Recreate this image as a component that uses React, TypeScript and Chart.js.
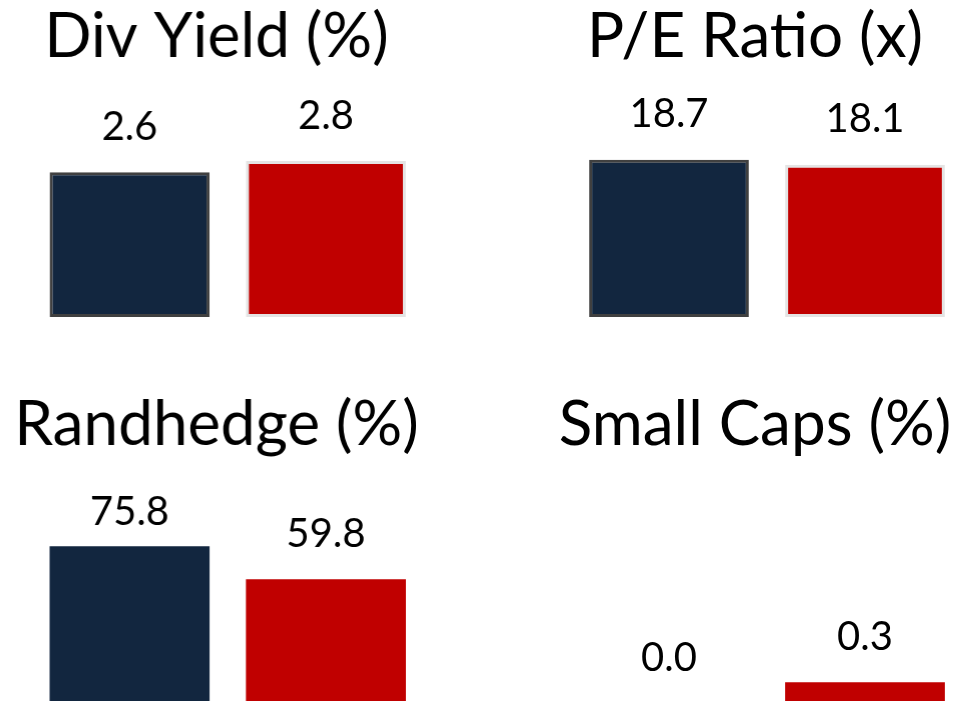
import React, { useEffect, useRef } from "react";
import { Chart, registerables } from "chart.js";

Chart.register(...registerables);

// ---- data ----
const seriesNames = ["Fund", "Benchmark"];
const panelTitles = ["Div Yield (%)", "P/E Ratio (x)", "Randhedge (%)", "Small Caps (%)"];
const divYield = [2.6, 2.8];
const peRatio = [18.7, 18.1];
const randhedge = [75.8, 59.8];
const smallCaps = [0.0, 0.3];
const axisMax = [4, 26.5, 100, 3];

const NAVY = "#12263F";
const RED = "#C00000";
const FONT = "Lato, 'Open Sans', sans-serif";

type Panel = {
  title: string;
  values: number[];
  max: number;
  left: number;
  top: number;
  width: number;
  height: number;
  axisWidth: number;
  padBottom: number;
  titlePadBottom: number;
  bordered: boolean;
};

const panels: Panel[] = [
  {
    title: panelTitles[0], values: divYield, max: axisMax[0],
    left: 9.2, top: 0, width: 414.6, height: 320, axisWidth: 22.4,
    padBottom: 3, titlePadBottom: 19.8, bordered: true,
  },
  {
    title: panelTitles[1], values: peRatio, max: axisMax[1],
    left: 547, top: 0, width: 416, height: 320, axisWidth: 24,
    padBottom: 3, titlePadBottom: 19.8, bordered: true,
  },
  {
    title: panelTitles[2], values: randhedge, max: axisMax[2],
    left: 9.2, top: 388, width: 414.6, height: 320, axisWidth: 22.4,
    padBottom: 5, titlePadBottom: 33.8, bordered: false,
  },
  {
    title: panelTitles[3], values: smallCaps, max: axisMax[3],
    left: 547, top: 388, width: 416, height: 320, axisWidth: 24,
    padBottom: 5, titlePadBottom: 33.8, bordered: false,
  },
];

const valueLabels = {
  id: "valueLabels",
  afterDatasetsDraw(chart: any) {
    const ctx = chart.ctx;
    const meta = chart.getDatasetMeta(0);
    const data = chart.data.datasets[0].data as number[];
    ctx.save();
    ctx.font = `40px ${FONT}`;
    ctx.fillStyle = "#000000";
    ctx.textAlign = "center";
    ctx.textBaseline = "alphabetic";
    meta.data.forEach((el: any, i: number) => {
      const y = Math.max(el.y - 32.5, chart.chartArea.top + 29);
      ctx.fillText(Number(data[i]).toFixed(1), el.x, y);
    });
    ctx.restore();
  },
};

function PanelChart({ p }: { p: Panel }) {
  const ref = useRef<HTMLCanvasElement | null>(null);
  useEffect(() => {
    if (!ref.current) return;
    const chart = new Chart(ref.current, {
      type: "bar",
      data: {
        labels: seriesNames,
        datasets: [
          {
            data: p.values,
            backgroundColor: [NAVY, RED],
            borderColor: p.bordered ? ["#404040", "#E4E4E4"] : [NAVY, RED],
            borderWidth: p.bordered ? 3 : 0,
            borderSkipped: false,
            barPercentage: 0.815,
            categoryPercentage: 1,
          },
        ],
      },
      options: {
        animation: false,
        responsive: false,
        maintainAspectRatio: false,
        devicePixelRatio: 1,
        layout: { padding: { left: 0, right: 0, top: 0, bottom: p.padBottom } },
        plugins: {
          legend: { display: false },
          tooltip: { enabled: false },
          title: {
            display: true,
            text: p.title,
            color: "#000000",
            font: { family: FONT, size: 62, weight: "normal" },
            padding: { top: 0, bottom: p.titlePadBottom },
          },
        },
        scales: {
          x: { display: false, offset: true },
          y: {
            display: true,
            min: 0,
            max: p.max,
            grid: { display: false, drawTicks: false },
            border: { display: false },
            ticks: { display: false },
            afterFit: (scale: any) => {
              scale.width = p.axisWidth;
            },
          },
        },
      },
      plugins: [valueLabels],
    });
    return () => chart.destroy();
  }, [p]);
  return (
    <canvas
      ref={ref}
      width={p.width}
      height={p.height}
      style={{
        position: "absolute",
        left: p.left,
        top: p.top,
        width: p.width,
        height: p.height,
      }}
    />
  );
}

export default function App() {
  return (
    <div
      style={{
        position: "absolute",
        left: 0,
        top: 0,
        width: 956,
        height: 701,
        overflow: "hidden",
        background: "#ffffff",
      }}
    >
      {panels.map((p, i) => (
        <PanelChart key={i} p={p} />
      ))}
    </div>
  );
}
